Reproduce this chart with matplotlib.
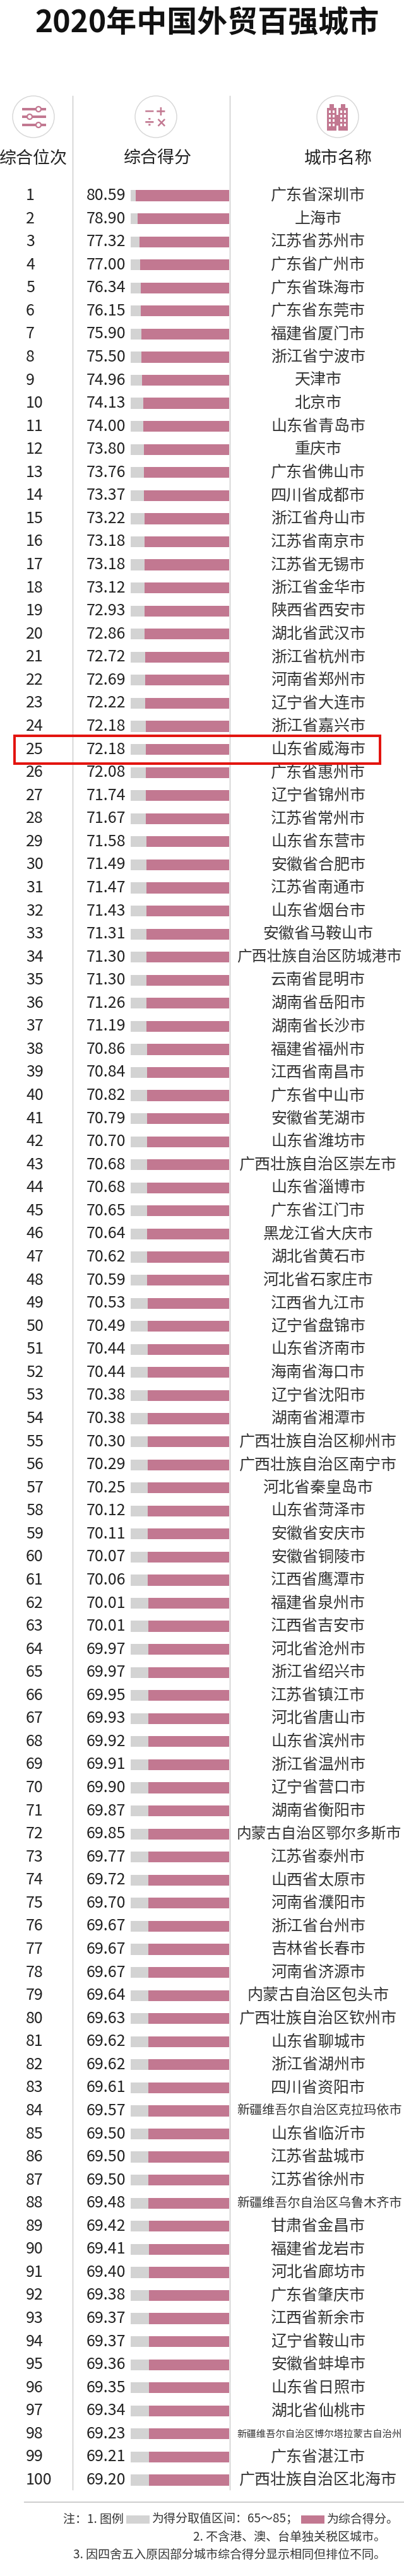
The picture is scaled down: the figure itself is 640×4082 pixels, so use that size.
import matplotlib
matplotlib.use('Agg')
import matplotlib.pyplot as plt
from matplotlib.patches import Circle, Rectangle

plt.rcParams['font.family'] = ['Noto Sans CJK SC', 'DejaVu Sans']

# ---- data ----
title = '2020年中国外贸百强城市'
headers = ['综合位次', '综合得分', '城市名称']

cities = [
    '广东省深圳市', '上海市', '江苏省苏州市', '广东省广州市', '广东省珠海市',
    '广东省东莞市', '福建省厦门市', '浙江省宁波市', '天津市', '北京市',
    '山东省青岛市', '重庆市', '广东省佛山市', '四川省成都市', '浙江省舟山市',
    '江苏省南京市', '江苏省无锡市', '浙江省金华市', '陕西省西安市', '湖北省武汉市',
    '浙江省杭州市', '河南省郑州市', '辽宁省大连市', '浙江省嘉兴市', '山东省威海市',
    '广东省惠州市', '辽宁省锦州市', '江苏省常州市', '山东省东营市', '安徽省合肥市',
    '江苏省南通市', '山东省烟台市', '安徽省马鞍山市', '广西壮族自治区防城港市', '云南省昆明市',
    '湖南省岳阳市', '湖南省长沙市', '福建省福州市', '江西省南昌市', '广东省中山市',
    '安徽省芜湖市', '山东省潍坊市', '广西壮族自治区崇左市', '山东省淄博市', '广东省江门市',
    '黑龙江省大庆市', '湖北省黄石市', '河北省石家庄市', '江西省九江市', '辽宁省盘锦市',
    '山东省济南市', '海南省海口市', '辽宁省沈阳市', '湖南省湘潭市', '广西壮族自治区柳州市',
    '广西壮族自治区南宁市', '河北省秦皇岛市', '山东省菏泽市', '安徽省安庆市', '安徽省铜陵市',
    '江西省鹰潭市', '福建省泉州市', '江西省吉安市', '河北省沧州市', '浙江省绍兴市',
    '江苏省镇江市', '河北省唐山市', '山东省滨州市', '浙江省温州市', '辽宁省营口市',
    '湖南省衡阳市', '内蒙古自治区鄂尔多斯市', '江苏省泰州市', '山西省太原市', '河南省濮阳市',
    '浙江省台州市', '吉林省长春市', '河南省济源市', '内蒙古自治区包头市', '广西壮族自治区钦州市',
    '山东省聊城市', '浙江省湖州市', '四川省资阳市', '新疆维吾尔自治区克拉玛依市', '山东省临沂市',
    '江苏省盐城市', '江苏省徐州市', '新疆维吾尔自治区乌鲁木齐市', '甘肃省金昌市', '福建省龙岩市',
    '河北省廊坊市', '广东省肇庆市', '江西省新余市', '辽宁省鞍山市', '安徽省蚌埠市',
    '山东省日照市', '湖北省仙桃市', '新疆维吾尔自治区博尔塔拉蒙古自治州', '广东省湛江市', '广西壮族自治区北海市',
]

scores = [
    80.59, 78.90, 77.32, 77.00, 76.34, 76.15, 75.90, 75.50, 74.96, 74.13,
    74.00, 73.80, 73.76, 73.37, 73.22, 73.18, 73.18, 73.12, 72.93, 72.86,
    72.72, 72.69, 72.22, 72.18, 72.18, 72.08, 71.74, 71.67, 71.58, 71.49,
    71.47, 71.43, 71.31, 71.30, 71.30, 71.26, 71.19, 70.86, 70.84, 70.82,
    70.79, 70.70, 70.68, 70.68, 70.65, 70.64, 70.62, 70.59, 70.53, 70.49,
    70.44, 70.44, 70.38, 70.38, 70.30, 70.29, 70.25, 70.12, 70.11, 70.07,
    70.06, 70.01, 70.01, 69.97, 69.97, 69.95, 69.93, 69.92, 69.91, 69.90,
    69.87, 69.85, 69.77, 69.72, 69.70, 69.67, 69.67, 69.67, 69.64, 69.63,
    69.62, 69.62, 69.61, 69.57, 69.50, 69.50, 69.50, 69.48, 69.42, 69.41,
    69.40, 69.38, 69.37, 69.37, 69.36, 69.35, 69.34, 69.23, 69.21, 69.20,
]

ranks = list(range(1, len(cities) + 1))
scale_max = 85          # grey track = full score range shown
highlight_rank = 25

notes = [
    ['注：1. 图例', 'grey', '为得分取值区间：65～85；', 'pink', '为综合得分。'],
    '2. 不含港、澳、台单独关税区城市。',
    '3. 因四舍五入原因部分城市综合得分显示相同但排位不同。',
]

# ---- style ----
W, H = 640, 4082
PINK = '#c27891'
GREY = '#d3d3d3'
LINE = '#cbcbcb'
INK = '#222222'
PX = 0.72  # px -> pt at dpi 100

fig = plt.figure(figsize=(W / 100, H / 100), dpi=100)
ax = fig.add_axes([0, 0, 1, 1])
ax.set_xlim(0, W)
ax.set_ylim(H, 0)
ax.axis('off')

# row geometry
row_first, row_last = 310, 3930
n = len(cities)
step = (row_last - row_first) / (n - 1)
top = row_first - step / 2
bottom = row_last + step / 2
ax_h = (bottom - top) / H
ax_y = 1 - bottom / H

bar_left, bar_right = 207, 363
bax = fig.add_axes([bar_left / W, ax_y, (bar_right - bar_left) / W, ax_h])
bax.set_xlim(scale_max, 0)
bax.set_ylim(n - 0.5, -0.5)
bax.axis('off')
bax.set_zorder(2)

tab = fig.add_axes([0, ax_y, 1, ax_h])
tab.set_xlim(0, W)
tab.set_ylim(n - 0.5, -0.5)
tab.axis('off')
tab.set_zorder(3)

ys = list(range(n))
bax.barh(ys, [scale_max] * n, height=0.47, color=GREY, linewidth=0)
bax.barh(ys, scores, height=0.47, color=PINK, linewidth=0)

# title
ax.text(328, 36, title, ha='center', va='center', fontsize=48 * PX,
        fontweight='bold', color='#111111')

# header icons
for cx in (53, 247, 535):
    ax.add_patch(Circle((cx, 185), 33, facecolor='white', edgecolor='#d6d6d6', lw=1))

# sliders icon
for yy, kx in ((173, 61), (185, 47), (198, 61)):
    ax.plot([35, 73], [yy, yy], color=PINK, lw=4 * PX, solid_capstyle='butt')
    ax.add_patch(Circle((kx, yy), 4, facecolor='white', edgecolor=PINK, lw=1.6, zorder=3))

# math icon
for sx, sy, s in ((237, 177, '−'), (255, 177, '+'), (237, 194, '÷'), (255, 194, '×')):
    ax.text(sx, sy, s, ha='center', va='center', fontsize=21 * PX, fontweight='bold',
            color=PINK, family='DejaVu Sans')

# building icon
for rx, ry, rw, rh in ((518, 171, 15, 36), (536, 171, 15, 36), (522, 165, 7, 7),
                       (540, 165, 7, 7), (531, 182, 7, 25)):
    ax.add_patch(Rectangle((rx, ry), rw, rh, facecolor=PINK, edgecolor='none'))
for wx in (520.5, 526.5, 538.5, 544.5):
    for wy in (175, 182, 189, 196):
        ax.add_patch(Rectangle((wx, wy), 3.5, 3.5, facecolor='white', edgecolor='none'))
ax.add_patch(Rectangle((532.8, 199), 3.4, 8, facecolor='white', edgecolor='none'))

# header labels
for hx, label in zip((53, 250, 536), headers):
    ax.text(hx, 251, label, ha='center', va='center', fontsize=27 * PX, color=INK)

# column dividers
for dx in (115, 364):
    ax.plot([dx, dx], [152, 3945], color=LINE, lw=1)
ax.plot([39, W], [3965, 3965], color='#d0d0d0', lw=1.5)

# table text
fs_row = 25 * PX
name_left, name_right, name_mid = 375, 636, 504
for i, (rk, city, sc) in enumerate(zip(ranks, cities, scores)):
    tab.text(41, i, str(rk), ha='left', va='center', fontsize=fs_row, color=INK)
    tab.text(199, i, f'{sc:.2f}', ha='right', va='center', fontsize=fs_row, color=INK)
    cfs = min(25, (name_right - name_left) / len(city))
    half = len(city) * cfs / 2
    if name_mid - half < name_left:
        tab.text(name_left, i, city, ha='left', va='center', fontsize=cfs * PX, color='#333333')
    else:
        tab.text(name_mid, i, city, ha='center', va='center', fontsize=cfs * PX, color='#333333')

# highlight box
hi = ranks.index(highlight_rank)
tab.add_patch(Rectangle((22.5, hi - 0.6), 579.5, 1.2, fill=False,
                        edgecolor='#e3140f', lw=4 * PX, zorder=5))

# footnotes
fs_note = 19 * PX
note_y = [3992, 4020, 4048]
fig.canvas.draw()
renderer = fig.canvas.get_renderer()
x = 100
for piece in notes[0]:
    if piece in ('grey', 'pink'):
        ax.add_patch(Rectangle((x + 4, note_y[0] - 6.5), 37, 13,
                               facecolor=GREY if piece == 'grey' else PINK, edgecolor='none'))
        x += 45
    else:
        t = ax.text(x, note_y[0], piece, ha='left', va='center', fontsize=fs_note, color='#333333')
        x += t.get_window_extent(renderer).width
for line, yy in zip(notes[1:], note_y[1:]):
    ax.text(611, yy, line, ha='right', va='center', fontsize=fs_note, color='#333333')

fig.savefig('out.png', dpi=100, facecolor='white')
